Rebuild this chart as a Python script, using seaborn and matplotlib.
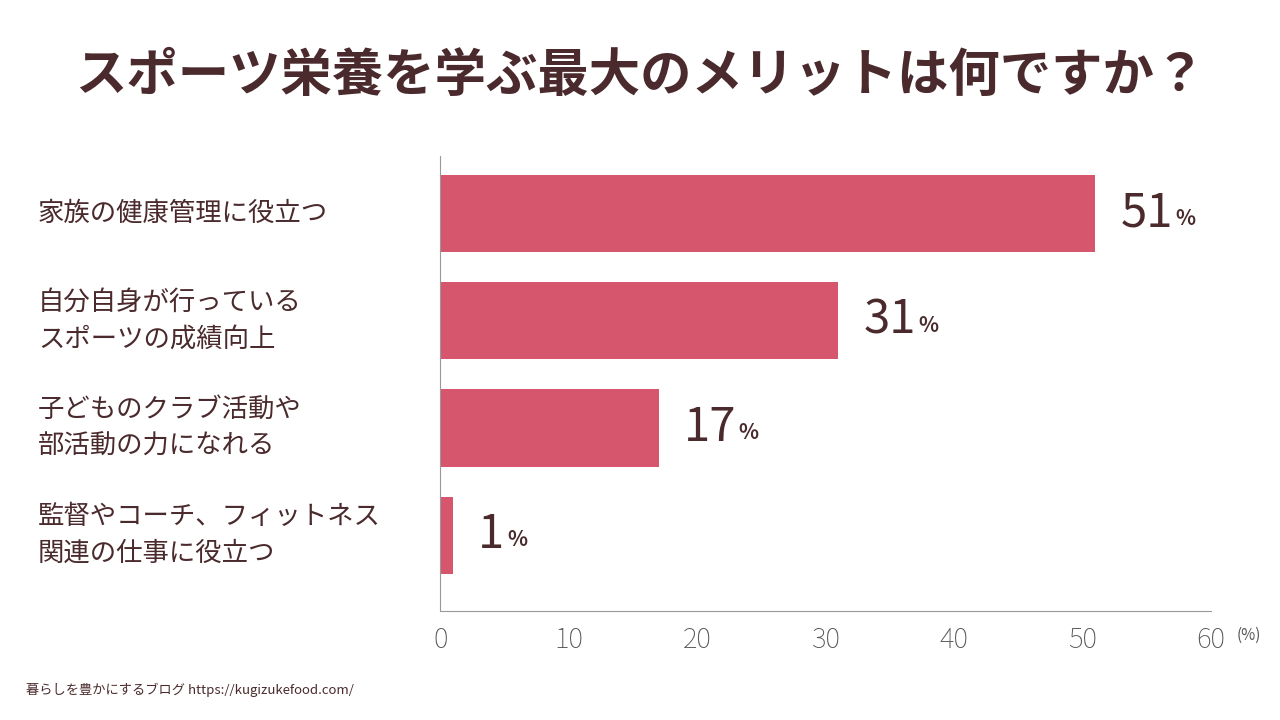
import matplotlib
matplotlib.use("Agg")
import matplotlib.pyplot as plt
import seaborn as sns
import pandas as pd

categories = ["家族の健康管理に役立つ", "自分自身が行っている\nスポーツの成績向上",
              "子どものクラブ活動や\n部活動の力になれる", "監督やコーチ、フィットネス\n関連の仕事に役立つ"]
values = [51, 31, 17, 1]
xticks = [0, 10, 20, 30, 40, 50, 60]

plt.rcParams["font.family"] = "Noto Sans CJK JP"
dark = "#4a2a2c"
bar_color = "#d6566e"

fig = plt.figure(figsize=(12.8, 7.2), dpi=100)
ax = fig.add_axes([0.344, 0.151, 0.602, 0.633])
df = pd.DataFrame({"cat": categories, "val": values})
sns.barplot(data=df, x="val", y="cat", color=bar_color, width=0.72, saturation=1, ax=ax)
ax.set_xlim(0, 60)
ax.set_ylim(3.71, -0.54)
ax.set_xticks(xticks)
ax.set_xticklabels([str(t) for t in xticks], fontsize=20, color="#555555", fontweight="light")
ax.tick_params(axis="x", length=0, pad=10)
ax.set_yticks([])
ax.set_xlabel(""); ax.set_ylabel("")
for s in ["top", "right"]:
    ax.spines[s].set_visible(False)
for s in ["left", "bottom"]:
    ax.spines[s].set_color("#999999")
    ax.spines[s].set_linewidth(0.8)

for i, c in enumerate(categories):
    ax.text(-0.522, i, c, transform=ax.get_yaxis_transform(), fontsize=19, color=dark,
            ha="left", va="center", linespacing=1.45)
ax.text(1.033, -0.052, "(%)", transform=ax.transAxes, fontsize=11, color="#555555",
        va="center", ha="left")

for i, v in enumerate(values):
    t = ax.annotate(str(v), xy=(v, i), xytext=(18, 0), textcoords="offset points",
                    fontsize=34, color=dark, va="center", ha="left")
    fig.canvas.draw()
    bb = t.get_window_extent()
    fig.text(bb.x1 / 1280 + 0.002, (bb.y0 + 9) / 720, "%", fontsize=15, color=dark,
             va="bottom", ha="left", fontweight="bold")

fig.text(0.5, 0.895, "スポーツ栄養を学ぶ最大のメリットは何ですか？", fontsize=37,
         fontweight="bold", color=dark, ha="center", va="center")
fig.text(0.02, 0.042, "暮らしを豊かにするブログ https://kugizukefood.com/", fontsize=9.5,
         color=dark, ha="left", va="center")
fig.savefig("out.png", dpi=100, facecolor="white")
